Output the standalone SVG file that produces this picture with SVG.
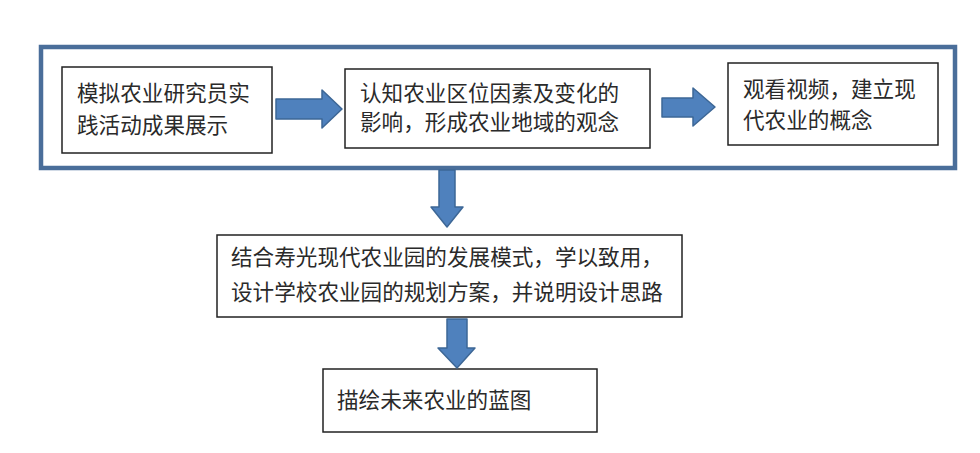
<svg xmlns="http://www.w3.org/2000/svg" width="980" height="453" viewBox="0 0 980 453">
<style>
.box{fill:#fff;stroke:#222;stroke-width:1.5}
.frame{fill:none;stroke:#4a6e9a;stroke-width:4.5}
.arr{fill:#4f81bd;stroke:#3d6796;stroke-width:1.5;stroke-linejoin:round}
text{font-family:"Noto Sans CJK SC","Noto Sans",sans-serif;font-size:21.6px;fill:#2a2a2a}
</style>
<rect width="980" height="453" fill="#fff"/>
<g id="frame"><rect class="frame" x="41" y="47" width="914" height="121"/></g>
<g id="n1"><rect class="box" x="62" y="67" width="210" height="86"/>
<text x="77" y="101">模拟农业研究员实</text><text x="77" y="133">践活动成果展示</text></g>
<g id="n2"><rect class="box" x="345" y="69" width="305" height="79"/>
<text x="360" y="101">认知农业区位因素及变化的</text><text x="360" y="130">影响，形成农业地域的观念</text></g>
<g id="n3"><rect class="box" x="728" y="63" width="210" height="82"/>
<text x="743" y="97">观看视频，建立现</text><text x="743" y="128">代农业的概念</text></g>
<g id="n4"><rect class="box" x="217" y="235" width="465" height="82"/>
<text x="231" y="265">结合寿光现代农业园的发展模式，学以致用，</text><text x="231" y="300">设计学校农业园的规划方案，并说明设计思路</text></g>
<g id="n5"><rect class="box" x="323" y="369" width="274" height="63"/>
<text x="337" y="408">描绘未来农业的蓝图</text></g>
<g id="connectors">
<path class="arr" d="M276,99 H322 V90 L342,109 L322,128 V119 H276 Z"/>
<path class="arr" d="M662,98 H693 V88 L715,107 L693,126 V117 H662 Z"/>
<path class="arr" d="M439,170 H455 V207 H463 L447,227 L431,207 H439 Z"/>
<path class="arr" d="M447,319 H467 V348 H475 L457,368 L438,348 H447 Z"/>
</g>
</svg>
